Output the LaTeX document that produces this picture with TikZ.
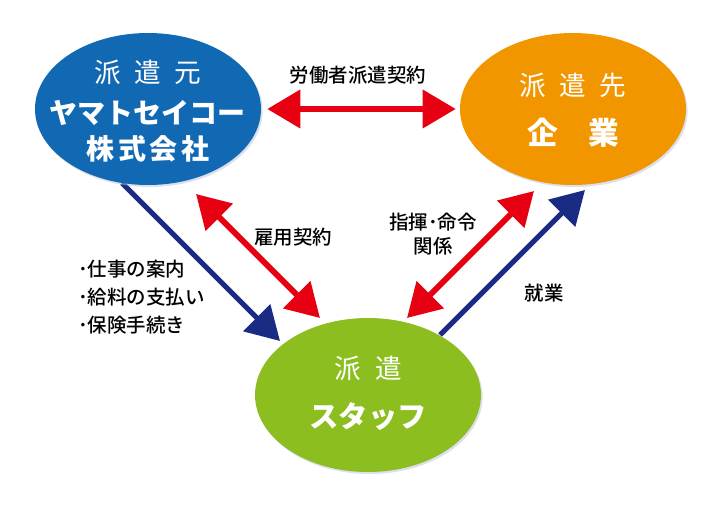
\documentclass[tikz,border=0pt]{standalone}
\usepackage{fontspec}
\setmainfont{Noto Sans CJK JP}
\newfontfamily\jpmedium{Noto Sans CJK JP Medium}
\newfontfamily\jpheavy{Noto Sans CJK JP Black}
\usetikzlibrary{arrows.meta, shapes.geometric, shadows}

\definecolor{motoblue}{HTML}{1169B3}
\definecolor{sakiorange}{HTML}{F29600}
\definecolor{staffgreen}{HTML}{8CBE1F}
\definecolor{arrowred}{HTML}{E60012}
\definecolor{arrownavy}{HTML}{1A2B84}

\tikzset{
	haken/.style={ellipse, minimum width=169.5pt, minimum height=114pt, inner sep=0pt,
		drop shadow={shadow xshift=1.2pt, shadow yshift=-1.5pt, fill=arrownavy!30, opacity=0.5}},
	redarrow/.style={draw=arrowred, line width=4.5pt, {Triangle[length=24.75pt, width=28pt]}-{Triangle[length=24.75pt, width=28pt]}},
	navyarrow/.style={draw=arrownavy, line width=3.8pt, -{Triangle[length=24.75pt, width=28pt]}},
	label/.style={font=\jpmedium\fontsize{14.6pt}{17pt}\selectfont, text=black, inner sep=0pt},
	thin title/.style={font=\fontsize{20pt}{24pt}\selectfont, text=white, inner sep=0pt},
	bold title/.style={font=\jpheavy\fontsize{21pt}{26pt}\selectfont, text=white, inner sep=0pt}
}

\begin{document}
\begin{tikzpicture}[x=0.75pt, y=-0.75pt]
			\useasboundingbox (0,0) rectangle (726,510);

			% arrow ends
			\coordinate (koyo-a) at (196,194);
			\coordinate (koyo-b) at (320,318);
			\coordinate (shiki-a) at (534,191);
			\coordinate (shiki-b) at (407,318);
			\coordinate (annai-a) at (122,183);
			\coordinate (annai-b) at (280,341);
			\coordinate (shugyo-a) at (440,335);
			\coordinate (shugyo-b) at (585,190);

			\draw[navyarrow] (annai-a) -- (annai-b);
			\draw[navyarrow] (shugyo-a) -- (shugyo-b);
			\draw[redarrow] (koyo-a) -- (koyo-b);
			\draw[redarrow] (shiki-a) -- (shiki-b);

			% ellipses
			\node[haken, fill=motoblue] (moto) at (148,109) {};
			\node[haken, fill=sakiorange] (saki) at (573,109) {};
			\node[haken, fill=staffgreen, minimum height=115.5pt] (staff) at (368,395) {};

			\draw[redarrow, shorten <=4.5pt, shorten >=3pt] (moto.east) -- (saki.west);

			% texts in ellipses
			\node[thin title] (moto-1) at (148,72) {派\hspace{.5em}遣\hspace{.5em}元};
			\node[bold title] (moto-2) at (148,113) {ヤマトセイコー};
			\node[bold title] (moto-3) at (148,149) {株\hspace{.12em}式\hspace{.12em}会\hspace{.12em}社};

			\node[thin title] (saki-1) at (573,85) {派\hspace{.5em}遣\hspace{.5em}先};
			\node[bold title, font=\jpheavy\fontsize{23pt}{26pt}\selectfont] (saki-2) at (573,133) {企\hspace{1em}業};

			\node[thin title] (staff-1) at (368,368) {派\hspace{.55em}遣};
			\node[bold title, font=\jpheavy\fontsize{22pt}{26pt}\selectfont] (staff-2) at (368,417) {スタッフ};

			% labels
			\node[label] (haken-keiyaku) at (358,75) {労働者派遣契約};
			\node[label] (koyo-keiyaku) at (293,237) {雇用契約};
			\node[label, align=center, font=\jpmedium\fontsize{14.6pt}{17.5pt}\selectfont] (shiki) at (433,234) {指揮･命令\\関係};
			\node[label] (shugyo) at (544,293) {就業};
			\node[label, align=left, anchor=west, font=\jpmedium\fontsize{14.6pt}{21pt}\selectfont] (tetsuzuki) at (78,297)
				{･仕事の案内\\･給料の支払い\\･保険手続き};
		\end{tikzpicture}
\end{document}
